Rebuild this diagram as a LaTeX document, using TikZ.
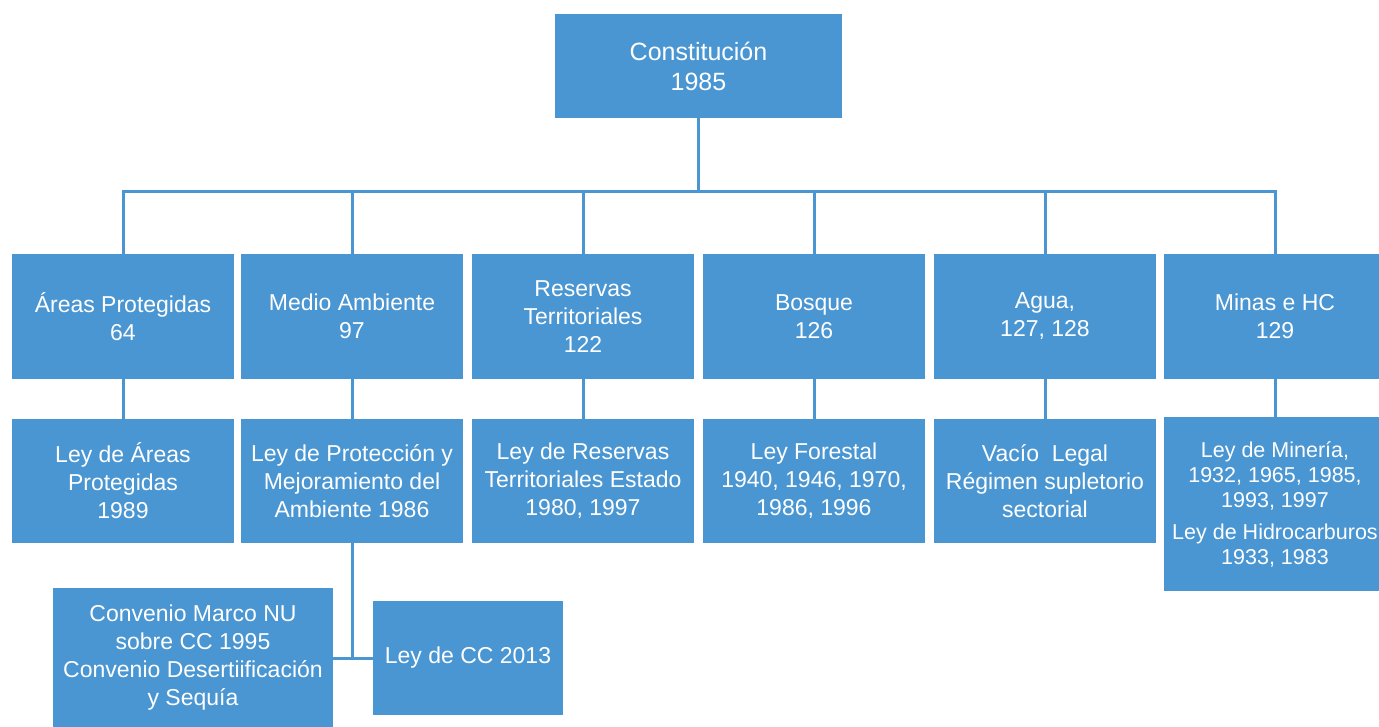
\documentclass[tikz,border=0pt]{standalone}
\usepackage{fontspec}
\setmainfont{Liberation Sans}
\usetikzlibrary{positioning}

\definecolor{boxblue}{RGB}{74,150,210}

\begin{document}
\begin{tikzpicture}[x=1pt, y=-1pt,
  box/.style={fill=boxblue, text=white, align=center, inner sep=2pt,
    font=\fontsize{23}{28}\selectfont},
  link/.style={draw=boxblue, line width=3pt}]
\useasboundingbox (0,0) rectangle (1379,726);

% raiz
\node[box, minimum width=287pt, minimum height=104pt, font=\fontsize{25}{30}\selectfont]
  (cons) at (698.5,66) {Constitución\\1985};
\coordinate (bus) at (698.5,191);

% nivel 2
\def\wB{222pt}
\node[box, minimum width=\wB, minimum height=125pt] (ap)  at (123,316.5)  {Áreas Protegidas\\64};
\node[box, minimum width=\wB, minimum height=125pt] (ma)  at (352,316.5)  {Medio Ambiente\\97};
\node[box, minimum width=\wB, minimum height=125pt] (rt)  at (583,316.5)  {Reservas\\Territoriales\\122};
\node[box, minimum width=\wB, minimum height=125pt] (bos) at (814,316.5)  {Bosque\\126};
\node[box, minimum width=\wB, minimum height=125pt] (agu) at (1045,316.5) {Agua,\\127, 128};
\node[box, minimum width=\wB, minimum height=125pt] (min) at (1275,316.5) {Minas e HC\\129};

% nivel 3
\node[box, minimum width=\wB, minimum height=124pt] (lap)  at (123,481)  {Ley de Áreas\\Protegidas\\1989};
\node[box, minimum width=\wB, minimum height=124pt] (lma)  at (352,481)  {Ley de Protección y\\Mejoramiento del\\Ambiente 1986};
\node[box, minimum width=\wB, minimum height=124pt] (lrt)  at (583,481)  {Ley de Reservas\\Territoriales Estado\\1980, 1997};
\node[box, minimum width=\wB, minimum height=124pt] (lbos) at (814,481)  {Ley Forestal\\1940, 1946, 1970,\\1986, 1996};
\node[box, minimum width=\wB, minimum height=124pt] (lagu) at (1045,481) {Vacío\ \ Legal\\Régimen supletorio\\sectorial};
\node[box, minimum width=\wB, minimum height=174pt, font=\fontsize{21.5}{25}\selectfont]
  (lmin) at (1275,504) {Ley de Minería,\\1932, 1965, 1985,\\1993, 1997\\[7pt]Ley de Hidrocarburos\\1933, 1983};

% nivel 4
\node[box, minimum width=280pt, minimum height=140pt] (conv) at (193,658) {Convenio Marco NU\\sobre CC 1995\\Convenio Desertiificación\\y Sequía};
\node[box, minimum width=190pt, minimum height=114pt] (lcc)  at (468,658) {Ley de CC 2013};

% conectores
\draw[link] (cons.south) -- (bus);
\foreach \n in {ap, ma, rt, bos, agu, min}
  \draw[link] (bus) -| (\n.north);
\draw[link] (ap.south) -- (lap.north);
\draw[link] (ma.south) -- (lma.north);
\draw[link] (rt.south) -- (lrt.north);
\draw[link] (bos.south) -- (lbos.north);
\draw[link] (agu.south) -- (lagu.north);
\draw[link] (min.south) -- (lmin.north);
\draw[link] (lma.south) |- (conv.east);
\draw[link] (lma.south) |- (lcc.west);
\end{tikzpicture}
\end{document}
